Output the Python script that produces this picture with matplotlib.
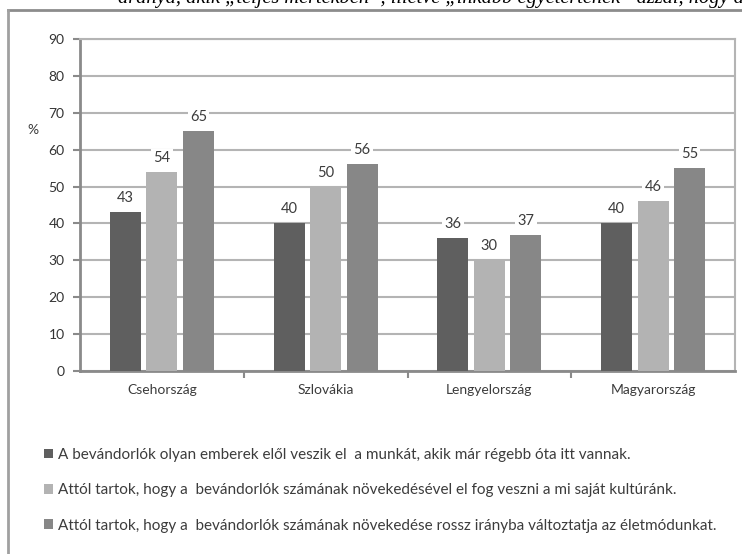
import numpy as np
import matplotlib
matplotlib.use('Agg')
import matplotlib.pyplot as plt
from matplotlib.lines import Line2D
from matplotlib.patches import Patch

# countries and the three survey statements (%)
countries = ['Csehország', 'Szlovákia', 'Lengyelország', 'Magyarország']
munka = [43, 40, 36, 40]
kultura = [54, 50, 30, 46]
eletmod = [65, 56, 37, 55]

series_labels = [
    'A bevándorlók olyan emberek elől veszik el  a munkát, akik már régebb óta itt vannak.',
    'Attól tartok, hogy a  bevándorlók számának növekedésével el fog veszni a mi saját kultúránk.',
    'Attól tartok, hogy a  bevándorlók számának növekedése rossz irányba változtatja az életmódunkat.',
]
colors = ['#5f5f5f', '#b3b3b3', '#878787']
header = 'aránya, akik „teljes mértékben”, illetve „inkább egyetértenek” azzal, hogy a'

plt.rcParams['font.family'] = ['Lato', 'DejaVu Sans']
txt_color = '#3c3c3c'

fig = plt.figure(figsize=(7.42, 5.54), dpi=100)
ax = fig.add_axes([80 / 742, 1 - 371 / 554, 655 / 742, 332 / 554])

x = np.arange(len(countries))
step = 0.223
width = 0.19
for k, vals in enumerate([munka, kultura, eletmod]):
    pos = x + (k - 1) * step
    ax.bar(pos, vals, width=width, color=colors[k], zorder=3)
    for px, v in zip(pos, vals):
        ax.annotate(str(v), (px, v), xytext=(0, 5), textcoords='offset points',
                    ha='center', va='bottom', fontsize=10.5, color=txt_color, zorder=5,
                    bbox=dict(boxstyle='square,pad=0.15', fc='white', ec='none'))

ax.set_xlim(-0.5, len(countries) - 0.5)
ax.set_ylim(0, 90)
ax.set_yticks(np.arange(0, 91, 10))
ax.yaxis.grid(True, color='#b4b4b4', linewidth=1.5, zorder=0)
ax.set_axisbelow(True)

ax.set_xticks(x)
ax.set_xticklabels(countries, fontsize=10, color=txt_color)
ax.tick_params(axis='x', length=0, pad=9)
ax.set_xticks(np.arange(0.5, len(countries) - 0.5, 1), minor=True)
ax.tick_params(axis='x', which='minor', length=5, width=1.5, color='#8a8a8a', direction='out')
ax.tick_params(axis='y', length=5, width=1.5, color='#8a8a8a', labelsize=10,
               labelcolor='#333333', pad=6)

for s in ['left', 'bottom']:
    ax.spines[s].set_color('#8a8a8a')
    ax.spines[s].set_linewidth(2)
for s in ['right', 'top']:
    ax.spines[s].set_color('#b4b4b4')
    ax.spines[s].set_linewidth(1.5)

fig.text(33 / 742, 1 - 130 / 554, '%', fontsize=10, color=txt_color, ha='center', va='center')

# legend
handles = [Patch(facecolor=c, edgecolor='none') for c in colors]
fig.legend(handles, series_labels, loc='upper left', bbox_to_anchor=(30 / 742, 1 - 434 / 554),
           frameon=False, fontsize=11, handlelength=0.6, handleheight=0.6, handletextpad=0.35,
           labelspacing=1.4, labelcolor=txt_color)

# frame of the original figure box and cut-off header line
fig.add_artist(Line2D([8 / 742, 1], [1 - 10 / 554, 1 - 10 / 554], color='#8c8c8c', lw=2))
fig.add_artist(Line2D([8 / 742, 8 / 742], [0, 1 - 10 / 554], color='#a0a0a0', lw=2))
fig.text(118 / 742, 1 - 3 / 554, header, fontsize=14.7, style='italic',
         family='Liberation Serif', ha='left', va='baseline', color='black')

fig.savefig('out.png', dpi=100)
